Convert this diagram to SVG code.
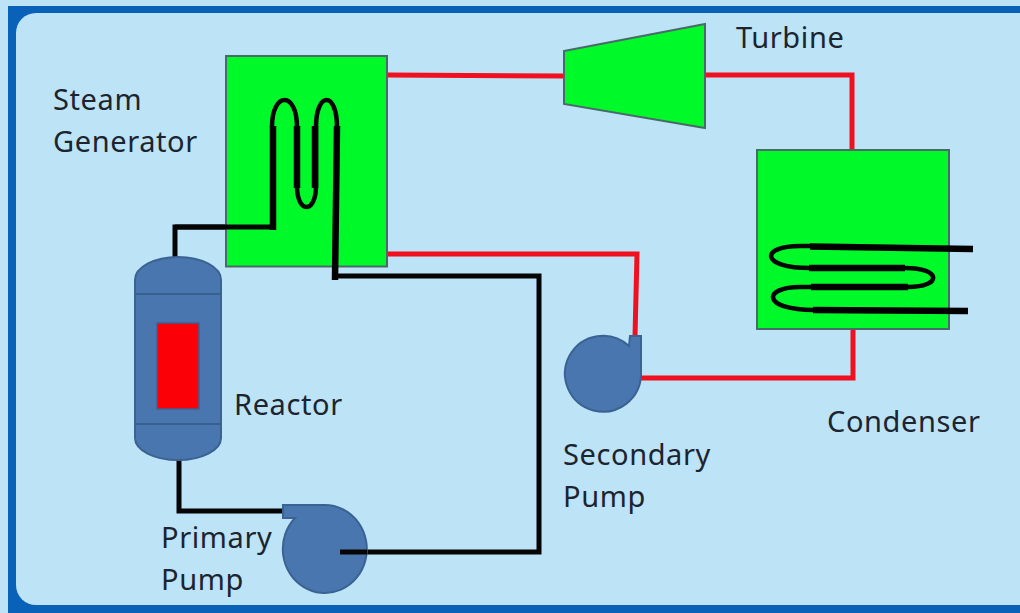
<svg xmlns="http://www.w3.org/2000/svg" width="1020" height="613" viewBox="0 0 1020 613">
<style>
.box{fill:#00fa29;stroke:#4a6a6a;stroke-width:2}
.steel{fill:#4a76b0;stroke:#3a6292;stroke-width:2}
.band{fill:none;stroke:#38608f;stroke-width:2}
.red{fill:none;stroke:#f01020;stroke-width:5;stroke-linejoin:miter}
.blk{fill:none;stroke:#050505;stroke-width:5;stroke-linejoin:miter}
.coil{fill:none;stroke:#050505;stroke-width:4.500}
.thk{fill:none;stroke:#000;stroke-width:6.500}
.lbl{font-family:"Noto Sans","Open Sans",sans-serif;font-size:29px;letter-spacing:.6px;fill:#1c2430}
</style>
<rect width="1020" height="613" fill="#bde3f6"/>
<rect x="8" y="6" width="1012" height="607" fill="#0a62b8"/>
<rect x="16" y="13" width="1024" height="592" rx="20" fill="#bde3f6"/>
<g id="connectors">
<path class="red" d="M387 75L565 76M705 75H852V150"/>
<path class="red" d="M387 254H637L635 337"/>
<path class="red" d="M641 378H853V328"/>
<path class="blk" d="M175 257V227H273"/>
<path class="blk" d="M179 455V511H285"/>
<path class="blk" d="M335 276H539V552H340"/>
</g>
<g id="steam-generator">
<rect class="box" x="226" y="56" width="161" height="210.500"/>
<path class="coil" d="M272 127C272 91 297 91 297 127V186C297 214 316 214 316 186V127C316 91 337 91 337 127"/>
<path class="thk" d="M273 126V230M297 126V188M315 126V188"/>
<path class="thk" d="M337 126L335 280"/>
<path class="blk" d="M175 227H273"/>
</g>
<g id="turbine">
<path class="box" d="M564 51L705 24V128L564 104Z"/>
</g>
<g id="condenser">
<rect class="box" x="757" y="150" width="192" height="179"/>
<path class="coil" d="M812 246H800C760 246 760 268 810 268M905 268C942 268 942 287 908 287M812 287H800C762 287 762 310 814 310"/>
<path class="thk" d="M810 246.500L973 249M809 268H905M811 287H908M813 310L968 311"/>
</g>
<g id="reactor">
<path class="steel" d="M135 280A43 23 0 0 1 221 280V438A43 22 0 0 1 135 438Z"/>
<path class="band" d="M135 294H221M135 424H221"/>
<rect x="157" y="323" width="42" height="86" fill="#fb0006" stroke="#3a6292" stroke-width="1.500"/>
</g>
<g id="primary-pump">
<path class="steel" d="M283 505H325A42 44 0 1 1 295 518H283Z"/>
<path class="blk" d="M340 552H367"/>
</g>
<g id="secondary-pump">
<path class="steel" d="M630 336H641V374A38 38 0 1 1 629 346Z"/>
</g>
<g id="labels">
<text class="lbl" x="53" y="110">Steam</text>
<text class="lbl" x="53" y="152">Generator</text>
<text class="lbl" x="736" y="48">Turbine</text>
<text class="lbl" x="234" y="415">Reactor</text>
<text class="lbl" x="827" y="432">Condenser</text>
<text class="lbl" x="563" y="465">Secondary</text>
<text class="lbl" x="563" y="507">Pump</text>
<text class="lbl" x="161" y="548">Primary</text>
<text class="lbl" x="161" y="590">Pump</text>
</g>
</svg>
